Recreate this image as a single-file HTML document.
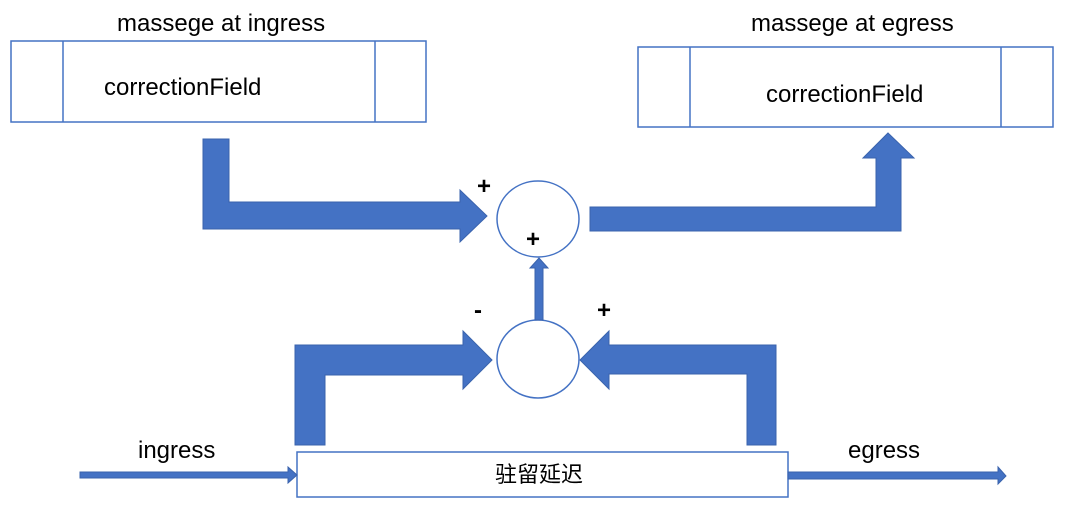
<!DOCTYPE html>
<html><head><meta charset="utf-8"><style>
html,body{margin:0;padding:0;background:#fff;width:1080px;height:518px;overflow:hidden}
svg{display:block}
text{font-family:"Liberation Sans","Noto Sans CJK SC",sans-serif;fill:#000}
</style></head><body>
<svg width="1080" height="518" viewBox="0 0 1080 518" xmlns="http://www.w3.org/2000/svg">
<g fill="none" stroke="#4472C4" stroke-width="1.5">
<rect x="11" y="41" width="415" height="81"/>
<line x1="63" y1="41" x2="63" y2="122"/><line x1="375" y1="41" x2="375" y2="122"/>
<rect x="638" y="47" width="415" height="80"/>
<line x1="690" y1="47" x2="690" y2="127"/><line x1="1001" y1="47" x2="1001" y2="127"/>
<ellipse cx="538" cy="219" rx="41" ry="38"/>
<ellipse cx="538" cy="359" rx="41" ry="39"/>
<rect x="297" y="452" width="491" height="45"/>
</g>
<g fill="#4472C4" stroke="#3a63ad" stroke-width="1">
<polygon points="203,139 229,139 229,202 460,202 460,190 487,216 460,242 460,229 203,229"/>
<polygon points="590,207 876,207 876,158 863,158 888,133 914,158 901,158 901,231 590,231"/>
<polygon points="535,320 535,268 530,268 539,258 548,268 543,268 543,320"/>
<polygon points="295,445 295,345 463,345 463,331 492,360 463,389 463,375 325,375 325,445"/>
<polygon points="776,445 776,345 609,345 609,331 580,360 609,389 609,374 747,374 747,445"/>
<polygon points="80,472 288,472 288,467 297,475 288,483 288,478 80,478"/>
<polygon points="788,472 998,472 998,467 1006,476 998,484 998,479 788,479"/>
</g>
<g font-size="24">
<text x="117" y="31">massege at ingress</text>
<text x="104" y="95">correctionField</text>
<text x="751" y="31">massege at egress</text>
<text x="766" y="102">correctionField</text>
<text x="138" y="458">ingress</text>
<text x="848" y="458">egress</text>
<text x="495" y="482" font-size="22">驻留延迟</text>
</g>
<g font-size="24" font-weight="bold">
<text x="477" y="194">+</text>
<text x="526" y="247">+</text>
<text x="474" y="318">-</text>
<text x="597" y="318">+</text>
</g>
</svg>
</body></html>
